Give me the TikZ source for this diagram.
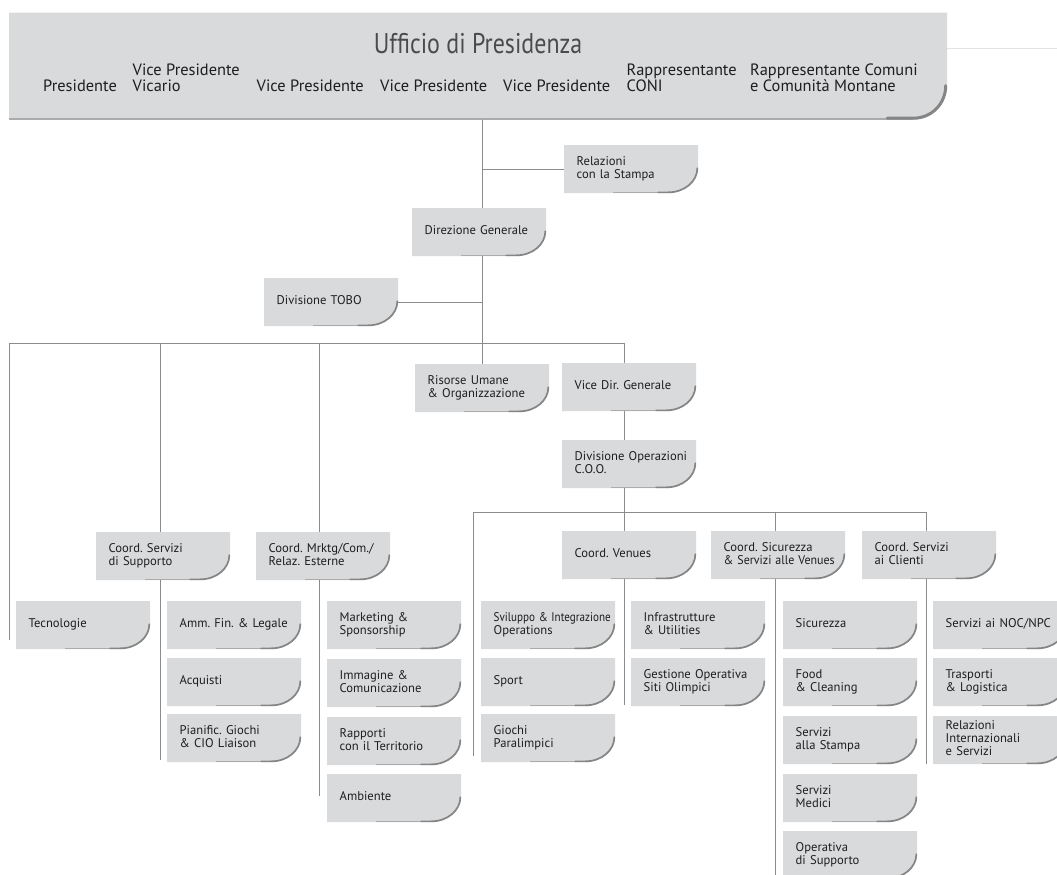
\documentclass[tikz,border=0pt]{standalone}
\usepackage{fontspec}
\setmainfont{PT Sans}
\newfontfamily\ttlfont{PT Sans}[FakeStretch=0.84]
\frenchspacing
\definecolor{boxfill}{HTML}{D9DADC}
\definecolor{txt}{HTML}{1E1E1E}
\definecolor{conncol}{HTML}{8C8C8C}
\definecolor{shadowd}{HTML}{858585}
\definecolor{shadowl}{HTML}{ABABAB}
\definecolor{thinline}{HTML}{E2E2E2}
\newcommand\bt[1]{\begin{tabular}{@{\hspace{12.5pt}}l@{}}#1\end{tabular}}
\newcommand\tl[1]{\begin{tabular}[b]{@{}l@{}}#1\end{tabular}}
\def\ppbb{path picture bounding box}
\tikzset{
  unit/.style={anchor=north west, inner sep=0pt, text width=134pt, minimum height=48pt,
    align=left, font=\fontsize{12.6}{12.9}\selectfont, text=txt,
    path picture={
      \fill[boxfill] (\ppbb.north west) -- (\ppbb.north east)
        -- ([yshift=27pt]\ppbb.south east)
        .. controls ([yshift=12pt]\ppbb.south east) and ([xshift=-13.5pt]\ppbb.south east)
        .. ([xshift=-30pt]\ppbb.south east) -- (\ppbb.south west) -- cycle;
      \draw[shadowl, line width=0.9pt] ([xshift=-85pt,yshift=0.45pt]\ppbb.south east)
        -- ([xshift=-30pt,yshift=0.45pt]\ppbb.south east);
      \draw[shadowd, line width=1.7pt, line cap=round]
        ([xshift=-40pt,yshift=0.85pt]\ppbb.south east)
        -- ([xshift=-30pt,yshift=0.85pt]\ppbb.south east)
        .. controls ([xshift=-13.5pt,yshift=0.85pt]\ppbb.south east) and ([xshift=-0.85pt,yshift=12pt]\ppbb.south east)
        .. ([xshift=-0.85pt,yshift=25pt]\ppbb.south east);
    }},
  topbox/.style={anchor=north west, inner sep=0pt, text width=938pt, minimum height=107pt,
    path picture={
      \fill[boxfill] (\ppbb.north west) -- (\ppbb.north east)
        -- ([yshift=37pt]\ppbb.south east)
        .. controls ([yshift=16.5pt]\ppbb.south east) and ([xshift=-15pt]\ppbb.south east)
        .. ([xshift=-34pt]\ppbb.south east) -- (\ppbb.south west) -- cycle;
      \draw[shadowl, line width=1.4pt] ([yshift=0.7pt]\ppbb.south west)
        -- ([xshift=-34pt,yshift=0.7pt]\ppbb.south east);
      \draw[shadowd, line width=3pt, line cap=round]
        ([xshift=-60pt,yshift=1.5pt]\ppbb.south east)
        -- ([xshift=-34pt,yshift=1.5pt]\ppbb.south east)
        .. controls ([xshift=-15pt,yshift=1.5pt]\ppbb.south east) and ([xshift=-1.5pt,yshift=16.5pt]\ppbb.south east)
        .. ([xshift=-1.5pt,yshift=34pt]\ppbb.south east);
    }},
  toplbl/.style={anchor=base west, inner sep=0pt, font=\fontsize{16.4}{15.8}\selectfont, text=txt},
  conn/.style={draw=conncol, line width=0.9pt},
}
\begin{document}
\begin{tikzpicture}[x=1pt,y=-1pt]
\useasboundingbox (0,0) rectangle (1057,875);
\clip (0,0) rectangle (1057,875);
% top box
\node[topbox] (top) at (9,12.5) {};
\node[anchor=base, inner sep=0pt, font=\ttlfont\fontsize{28.5}{28}\selectfont, text=txt!80!white] (ttl) at (478,53) {Ufficio di Presidenza};
\node[toplbl] (p1) at (43,92) {Presidente};
\node[toplbl] (p2) at (132.5,92) {\tl{Vice Presidente\\Vicario}};
\node[toplbl] (p3) at (256.5,92) {Vice Presidente};
\node[toplbl] (p4) at (380,92) {Vice Presidente};
\node[toplbl] (p5) at (503,92) {Vice Presidente};
\node[toplbl] (p6) at (626.5,92) {\tl{Rappresentante\\CONI}};
\node[toplbl] (p7) at (750,92) {\tl{Rappresentante Comuni\\e Comunità Montane}};
% level boxes
\node[unit] (rel) at (564,145) {\bt{Relazioni\\con la Stampa}};
\node[unit] (dg) at (412,208) {\bt{Direzione Generale}};
\node[unit] (tobo) at (264,278) {\bt{Divisione TOBO}};
\node[unit] (ru) at (415,364) {\bt{Risorse Umane\\\& Organizzazione}};
\node[unit] (vdg) at (562,363) {\bt{Vice Dir. Generale}};
\node[unit] (coo) at (562,440) {\bt{Divisione Operazioni\\C.O.O.}};
\node[unit] (csup) at (96,532) {\bt{Coord. Servizi\\di Supporto}};
\node[unit] (cmk) at (256,532) {\bt{Coord. Mrktg/Com./\\Relaz. Esterne}};
\node[unit] (cven) at (562,531) {\bt{Coord. Venues}};
\node[unit] (csic) at (711,531) {\bt{Coord. Sicurezza\\\scalebox{0.95}[1]{\& Servizi alle Venues}}};
\node[unit] (ccli) at (862,531) {\bt{Coord. Servizi\\ai Clienti}};
% leaves
\node[unit] (tec) at (16,601) {\bt{Tecnologie}};
\node[unit] (amm) at (167,601) {\bt{Amm. Fin. \& Legale}};
\node[unit] (acq) at (167,658) {\bt{Acquisti}};
\node[unit] (pian) at (167,714) {\bt{Pianific. Giochi\\\& CIO Liaison}};
\node[unit] (mkt) at (327,601) {\bt{Marketing \&\\Sponsorship}};
\node[unit] (imm) at (327,659) {\bt{Immagine \&\\Comunicazione}};
\node[unit] (rap) at (327,717) {\bt{Rapporti\\con il Territorio}};
\node[unit] (amb) at (327,774) {\bt{Ambiente}};
\node[unit] (svi) at (481,601) {\bt{\scalebox{0.88}[1]{Sviluppo \& Integrazione}\\Operations}};
\node[unit] (spo) at (481,658) {\bt{Sport}};
\node[unit] (gio) at (481,714) {\bt{Giochi\\Paralimpici}};
\node[unit] (inf) at (631,601) {\bt{Infrastrutture\\\& Utilities}};
\node[unit] (ges) at (631,658) {\bt{Gestione Operativa\\Siti Olimpici}};
\node[unit] (sic) at (783,601) {\bt{Sicurezza}};
\node[unit] (food) at (783,658) {\bt{Food\\\& Cleaning}};
\node[unit] (sst) at (783,716) {\bt{Servizi\\alla Stampa}};
\node[unit] (smed) at (783,774) {\bt{Servizi\\Medici}};
\node[unit] (oper) at (783,831) {\bt{Operativa\\di Supporto}};
\node[unit] (noc) at (933,601) {\bt{Servizi ai NOC/NPC}};
\node[unit] (tras) at (933,658) {\bt{Trasporti\\\& Logistica}};
\node[unit] (rint) at (933,716) {\bt{Relazioni\\Internazionali\\e Servizi}};
% junctions
\coordinate (jA) at (482,343);
\coordinate (jL) at (9,343);
\coordinate (jB) at (160,343);
\coordinate (jC) at (319,343);
\coordinate (jD) at (624,343);
\coordinate (jE) at (624,512);
\coordinate (jF) at (473,512);
\coordinate (jG) at (775,512);
\coordinate (jH) at (926,512);
\coordinate (eL) at (9,640);
\coordinate (eB) at (160,760);
\coordinate (eC) at (319,796);
\coordinate (eF) at (473,756);
\coordinate (eE) at (624,705);
\coordinate (eG) at (775,880);
\coordinate (eH) at (926,764);
\coordinate (rl) at (1057,48);
% connectors
\draw[draw=thinline, line width=0.8pt] (top.east |- rl) -- (rl);
\draw[conn] (top.south -| jA) -- (dg.north -| jA);
\draw[conn] (dg.south -| jA) -- (ru.north -| jA);
\draw[conn] (rel.west -| jA) -- (rel.west);
\draw[conn] (tobo.east) -- (tobo.east -| jA);
\draw[conn] (eL) -- (jL) -- (jD) -- (vdg.north -| jD);
\draw[conn] (jB) -- (csup.north -| jB);
\draw[conn] (csup.south -| jB) -- (eB);
\draw[conn] (jC) -- (cmk.north -| jC);
\draw[conn] (cmk.south -| jC) -- (eC);
\draw[conn] (vdg.south -| jD) -- (coo.north -| jD);
\draw[conn] (coo.south -| jE) -- (jE);
\draw[conn] (eF) -- (jF) -- (jH) -- (ccli.north -| jH);
\draw[conn] (jE) -- (cven.north -| jE);
\draw[conn] (cven.south -| jE) -- (eE);
\draw[conn] (jG) -- (csic.north -| jG);
\draw[conn] (csic.south -| jG) -- (eG);
\draw[conn] (ccli.south -| jH) -- (eH);
\end{tikzpicture}
\end{document}
